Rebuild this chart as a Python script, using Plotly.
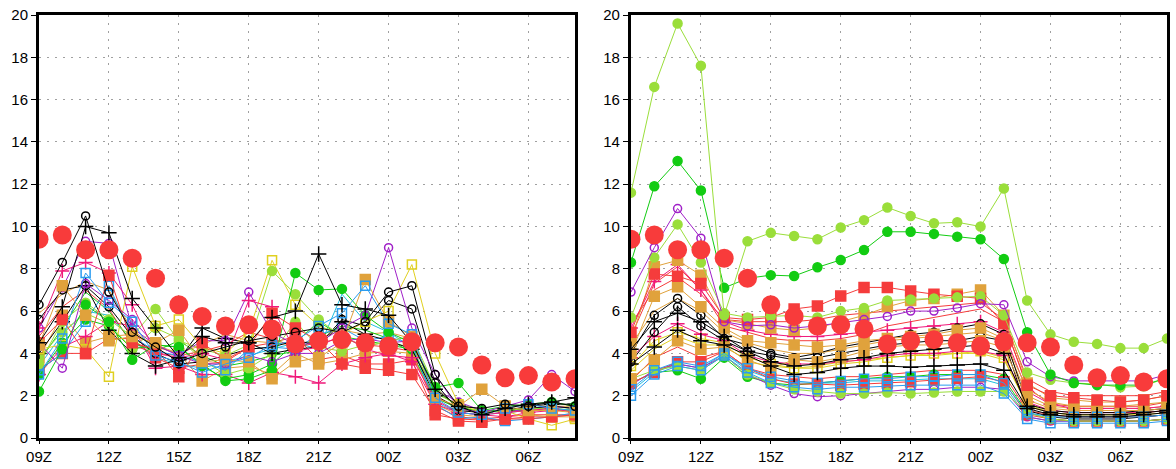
import plotly.graph_objects as go
from plotly.subplots import make_subplots

hours = list(range(24))
tick_vals = [0, 3, 6, 9, 12, 15, 18, 21]
tick_text = ["09Z", "12Z", "15Z", "18Z", "21Z", "00Z", "03Z", "06Z"]
y_ticks = [0, 2, 4, 6, 8, 10, 12, 14, 16, 18, 20]

obs = [9.4, 9.6, 8.9, 8.9, 8.5, 7.55, 6.3, 5.75, 5.3, 5.35, 5.15, 4.45,
       4.6, 4.65, 4.5, 4.35, 4.55, 4.5, 4.3, 3.45, 2.85, 2.95, 2.65, 2.8]

# ---- left panel members ----
l_boc1 = [6.3, 8.3, 10.5, 6.9, 5.0, 4.3, 3.6, 4.0, 4.3, 4.6, 4.8, 5.0, 5.2, 5.0, 5.5, 6.9, 7.2, 3.0, 1.5, 1.4, 1.6, 1.5, 1.7, 1.5]
l_boc2 = [5.6, 7.0, 7.2, 6.2, 4.8, 4.0, 3.5, 3.6, 3.9, 4.2, 4.3, 4.6, 4.4, 5.6, 5.3, 6.5, 6.1, 2.6, 1.3, 1.2, 1.3, 1.4, 1.5, 1.4]
l_bp1 = [4.5, 6.2, 10.0, 9.7, 6.6, 5.2, 3.8, 4.8, 4.5, 4.5, 5.7, 6.0, 8.7, 6.3, 6.1, 5.8, 4.5, 2.3, 1.5, 1.1, 1.4, 1.6, 1.7, 1.9]
l_bp2 = [4.0, 5.5, 7.2, 5.1, 4.0, 3.4, 3.7, 5.2, 4.7, 4.5, 4.0, 4.2, 4.3, 5.5, 4.9, 4.6, 4.2, 2.0, 1.4, 1.2, 1.3, 1.5, 1.6, 1.6]
l_g1 = [2.2, 4.2, 6.3, 5.5, 3.7, 4.4, 4.3, 3.5, 2.7, 2.8, 3.2, 7.8, 7.0, 7.05, 5.8, 5.0, 4.5, 2.4, 2.6, 1.3, 1.5, 1.6, 1.7, 1.5]
l_g2 = [3.0, 4.5, 5.6, 5.3, 4.2, 4.4, 4.3, 3.4, 2.8, 3.0, 3.5, 4.5, 5.5, 4.8, 4.6, 4.4, 4.2, 2.2, 1.5, 1.2, 1.3, 1.4, 1.4, 1.3]
l_yg1 = [3.5, 5.5, 6.4, 5.6, 4.8, 6.1, 4.6, 4.2, 3.9, 4.4, 7.9, 6.8, 5.6, 4.8, 4.3, 4.6, 4.8, 2.4, 1.4, 1.2, 1.3, 1.4, 1.4, 1.3]
l_yg2 = [3.8, 5.0, 5.9, 5.4, 4.2, 5.2, 4.7, 3.7, 3.0, 3.3, 4.0, 5.5, 4.3, 4.1, 4.4, 4.5, 4.3, 2.1, 1.6, 1.3, 1.2, 1.3, 1.4, 1.2]
l_pu1 = [4.5, 3.3, 7.3, 6.5, 5.6, 4.4, 3.9, 4.6, 4.6, 6.9, 5.0, 4.4, 4.5, 5.2, 5.8, 9.0, 5.2, 3.0, 1.4, 1.2, 1.5, 1.8, 3.0, 2.2]
l_pu2 = [5.2, 7.1, 9.3, 9.2, 5.2, 4.4, 3.9, 3.5, 3.5, 3.9, 3.6, 4.0, 4.0, 4.6, 4.7, 4.5, 4.6, 2.3, 1.7, 1.3, 1.2, 1.4, 1.5, 1.4]
l_mp1 = [5.2, 7.9, 8.3, 7.8, 6.3, 4.0, 3.8, 4.0, 3.7, 6.5, 6.2, 4.1, 4.3, 4.9, 4.2, 3.9, 3.8, 1.8, 1.2, 1.1, 1.2, 1.3, 1.4, 1.2]
l_mp2 = [3.0, 4.3, 4.8, 5.5, 5.3, 3.3, 3.4, 3.0, 3.0, 2.6, 3.1, 2.9, 2.6, 3.5, 3.8, 4.0, 3.6, 1.6, 1.2, 1.1, 1.0, 1.2, 1.3, 1.3]
l_rs1 = [4.5, 5.6, 4.0, 7.7, 4.5, 4.2, 2.9, 4.5, 3.7, 4.3, 5.9, 5.2, 4.6, 3.5, 3.3, 3.2, 3.0, 1.3, 0.8, 0.75, 0.9, 0.9, 1.0, 1.1]
l_rs2 = [3.2, 4.0, 4.0, 4.7, 4.7, 3.8, 3.3, 3.5, 3.6, 4.3, 4.5, 4.8, 3.7, 3.9, 3.5, 3.5, 3.7, 1.1, 0.9, 0.85, 0.9, 1.0, 1.0, 1.1]
l_os1 = [4.4, 7.2, 5.8, 4.6, 4.8, 4.5, 5.1, 3.6, 3.7, 3.6, 2.8, 3.6, 3.8, 4.5, 7.5, 5.5, 4.8, 1.9, 1.5, 2.3, 1.5, 1.3, 1.3, 1.2]
l_os2 = [3.8, 5.8, 4.5, 4.8, 4.9, 4.4, 4.0, 2.7, 3.3, 3.4, 3.0, 4.0, 3.5, 3.7, 4.0, 4.1, 4.0, 1.6, 1.1, 1.0, 1.5, 1.1, 1.0, 1.0]
l_bs1 = [3.0, 4.7, 7.8, 6.4, 5.5, 3.9, 3.6, 3.1, 3.5, 3.8, 4.4, 4.6, 5.3, 5.9, 7.2, 5.4, 4.9, 1.9, 1.2, 1.1, 1.4, 1.6, 1.4, 1.3]
l_bs2 = [3.2, 4.0, 5.5, 7.2, 4.8, 4.1, 3.9, 3.6, 3.2, 4.2, 4.3, 4.2, 4.9, 5.2, 4.6, 4.8, 4.4, 1.6, 0.9, 1.0, 0.8, 0.9, 1.0, 1.2]
l_ys1 = [4.2, 4.4, 4.2, 2.9, 8.1, 5.3, 5.6, 4.3, 4.0, 5.0, 8.4, 6.3, 5.3, 4.9, 5.5, 6.0, 8.2, 4.0, 1.6, 1.2, 1.3, 0.9, 0.6, 0.9]
l_cyan = [3.4, 4.9, 6.0, 5.8, 4.6, 3.8, 3.5, 3.3, 3.6, 3.9, 4.2, 4.5, 4.2, 6.8, 5.5, 5.0, 4.3, 1.7, 1.2, 1.1, 1.2, 1.3, 1.3, 1.3]
l_orange = [5.9, 6.8, 7.4, 7.0, 5.1, 4.3, 4.0, 4.4, 4.9, 4.6, 4.5, 4.4, 4.7, 5.1, 4.9, 5.0, 4.7, 2.0, 1.4, 1.2, 1.3, 1.4, 1.5, 1.5]
l_red = [4.8, 6.2, 7.0, 6.1, 4.4, 4.0, 3.9, 4.1, 4.4, 5.0, 4.7, 4.3, 4.5, 4.7, 4.4, 4.3, 4.1, 1.5, 1.0, 0.9, 1.0, 1.1, 1.1, 1.1]
l_green = [3.6, 5.2, 6.9, 6.0, 4.5, 4.1, 4.6, 3.9, 3.4, 3.6, 3.9, 4.1, 4.8, 5.3, 5.1, 4.7, 4.0, 1.9, 1.4, 1.3, 1.3, 1.3, 1.3, 1.4]

# ---- right panel members ----
r_yg1 = [11.6, 16.6, 19.6, 17.6, 5.8, 9.3, 9.7, 9.55, 9.4, 9.95, 10.3, 10.9, 10.5, 10.15, 10.2, 10.0, 11.8, 6.5, 4.9, 4.55, 4.45, 4.25, 4.25, 4.7]
r_g1 = [8.3, 11.9, 13.1, 11.7, 7.1, 7.55, 7.7, 7.66, 8.07, 8.42, 8.89, 9.75, 9.75, 9.65, 9.52, 9.4, 8.46, 5.0, 3.0, 2.6, 2.5, 2.5, 2.5, 2.85]
r_pu1 = [6.9, 9.0, 10.85, 9.45, 5.5, 5.3, 5.35, 5.2, 5.3, 5.45, 5.6, 5.75, 6.0, 6.0, 6.15, 6.35, 6.3, 3.6, 2.9, 2.7, 2.7, 2.7, 2.7, 3.0]
r_yg2 = [5.7, 8.54, 10.1, 8.3, 5.9, 5.7, 5.75, 5.8, 5.7, 6.0, 6.15, 6.5, 6.55, 6.6, 6.65, 6.7, 5.8, 3.1, 2.75, 2.6, 2.55, 2.4, 2.45, 2.85]
r_yg3 = [2.8, 3.2, 3.4, 3.2, 3.9, 3.0, 2.6, 2.3, 2.2, 2.1, 2.1, 2.15, 2.1, 2.15, 2.2, 2.2, 2.2, 1.2, 0.9, 0.8, 0.8, 0.8, 0.8, 0.9]
r_rs1 = [5.0, 7.75, 7.65, 7.3, 5.7, 5.6, 5.7, 6.1, 6.24, 6.71, 7.12, 7.12, 6.95, 6.8, 6.7, 6.6, 5.4, 2.5, 2.0, 1.9, 1.8, 1.7, 1.8, 2.0]
r_rs2 = [4.8, 7.3, 8.1, 7.0, 5.3, 5.0, 4.7, 4.6, 4.6, 4.7, 4.9, 5.3, 5.5, 5.7, 5.9, 6.1, 5.5, 2.4, 1.6, 1.5, 1.5, 1.5, 1.5, 1.7]
r_rs3 = [2.6, 3.1, 3.6, 3.6, 4.1, 3.3, 2.8, 2.55, 2.55, 2.5, 2.55, 2.6, 2.66, 2.74, 2.82, 2.9, 2.66, 1.1, 0.9, 0.8, 0.8, 0.8, 0.8, 0.9]
r_rs4 = [2.7, 3.8, 4.3, 3.8, 4.1, 3.3, 3.0, 2.9, 2.8, 2.9, 2.9, 3.0, 3.1, 3.2, 3.2, 3.2, 3.0, 1.3, 1.1, 1.0, 1.0, 1.0, 1.0, 1.1]
r_os1 = [4.6, 8.1, 8.4, 7.7, 5.6, 5.4, 5.2, 5.1, 5.2, 5.5, 5.8, 6.2, 6.5, 6.6, 6.8, 7.0, 5.8, 2.6, 1.9, 1.8, 1.7, 1.7, 1.8, 2.0]
r_os2 = [4.0, 6.7, 7.15, 6.2, 5.2, 4.6, 4.5, 4.4, 4.3, 4.4, 4.6, 4.7, 4.8, 4.9, 5.1, 5.2, 4.7, 2.3, 1.7, 1.5, 1.5, 1.5, 1.6, 1.7]
r_os3 = [2.8, 3.7, 4.6, 4.2, 4.3, 3.7, 3.3, 3.7, 3.6, 3.8, 4.1, 4.3, 4.4, 4.4, 4.5, 4.6, 4.3, 1.8, 1.4, 1.3, 1.3, 1.3, 1.3, 1.4]
r_mp1 = [5.2, 7.4, 8.2, 7.0, 5.5, 5.1, 4.9, 4.8, 4.8, 4.9, 5.0, 5.1, 5.2, 5.3, 5.4, 5.5, 5.0, 2.2, 1.6, 1.4, 1.4, 1.4, 1.4, 1.5]
r_mp2 = [3.8, 4.8, 5.4, 4.9, 4.6, 3.9, 3.6, 3.5, 3.5, 3.6, 3.7, 3.9, 4.0, 4.0, 4.1, 4.1, 3.9, 1.7, 1.3, 1.2, 1.2, 1.2, 1.2, 1.3]
r_boc1 = [4.0, 5.8, 6.6, 5.8, 4.7, 4.4, 4.0, 3.8, 4.0, 4.3, 4.5, 4.7, 4.9, 5.0, 5.2, 5.4, 4.9, 1.6, 1.3, 1.2, 1.2, 1.2, 1.3, 1.4]
r_boc2 = [3.6, 5.0, 6.2, 5.3, 4.6, 4.1, 3.9, 3.7, 3.8, 4.0, 4.2, 4.4, 4.5, 4.6, 4.6, 4.8, 4.6, 1.3, 1.0, 0.9, 0.9, 0.9, 1.0, 1.1]
r_bp1 = [3.5, 4.3, 5.1, 4.6, 4.4, 3.9, 3.4, 3.0, 3.1, 3.3, 3.4, 3.4, 3.35, 3.4, 3.45, 3.5, 3.2, 1.4, 1.1, 1.0, 1.0, 1.0, 1.1, 1.2]
r_bp2 = [4.2, 5.5, 5.9, 5.5, 4.8, 4.1, 3.6, 3.4, 3.5, 3.7, 3.8, 4.0, 4.1, 4.2, 4.3, 4.4, 4.0, 1.5, 1.2, 1.1, 1.1, 1.1, 1.2, 1.3]
r_bs1 = [2.0, 3.0, 3.4, 3.2, 3.9, 3.1, 2.6, 2.4, 2.3, 2.4, 2.4, 2.45, 2.5, 2.5, 2.5, 2.5, 2.1, 0.9, 0.7, 0.7, 0.7, 0.7, 0.7, 0.8]
r_bs2 = [2.3, 3.2, 3.6, 3.4, 4.0, 3.3, 2.9, 2.7, 2.6, 2.7, 2.8, 2.8, 2.9, 2.9, 3.0, 3.0, 2.6, 1.2, 1.0, 1.0, 1.0, 1.0, 1.0, 1.1]
r_pu2 = [2.5, 3.2, 3.5, 3.3, 3.9, 3.0, 2.5, 2.1, 1.95, 2.0, 2.1, 2.2, 2.3, 2.3, 2.4, 2.4, 2.3, 1.0, 0.8, 0.8, 0.8, 0.8, 0.8, 0.9]
r_ys1 = [3.4, 4.6, 5.0, 4.7, 4.5, 3.8, 3.5, 3.3, 3.3, 3.5, 3.6, 3.8, 3.9, 4.0, 4.0, 4.1, 3.8, 1.5, 1.2, 1.1, 1.1, 1.1, 1.1, 1.2]
r_g2 = [2.6, 3.1, 3.2, 2.8, 3.8, 2.9, 2.6, 2.5, 2.6, 2.7, 2.8, 2.9, 2.9, 3.0, 3.0, 3.0, 2.8, 1.2, 0.9, 0.8, 0.8, 0.8, 0.8, 0.9]
r_cyan = [2.2, 3.1, 3.5, 3.3, 4.0, 3.2, 2.8, 2.6, 2.6, 2.6, 2.7, 2.7, 2.75, 2.8, 2.8, 2.8, 2.5, 1.0, 0.8, 0.8, 0.8, 0.8, 0.8, 0.9]
r_orange = [4.4, 6.0, 6.6, 6.0, 5.0, 4.5, 4.2, 4.0, 4.0, 4.2, 4.4, 4.6, 4.7, 4.8, 4.9, 5.0, 4.6, 2.0, 1.5, 1.4, 1.4, 1.4, 1.4, 1.5]
r_red = [5.4, 7.0, 7.6, 6.8, 5.6, 5.5, 5.5, 5.5, 5.6, 5.8, 5.9, 6.0, 6.1, 6.2, 6.3, 6.4, 5.6, 2.8, 2.2, 2.0, 2.0, 2.0, 2.0, 2.2]
r_yellow = [3.2, 4.2, 4.8, 4.4, 4.4, 3.6, 3.4, 3.3, 3.4, 3.6, 3.7, 3.8, 3.9, 3.9, 4.0, 4.0, 3.7, 1.6, 1.2, 1.1, 1.1, 1.1, 1.2, 1.3]

BLACK = "#000000"
GREEN = "#12cc12"
YGREEN = "#9ade3a"
PURPLE = "#a020c8"
MAGENTA = "#f0187a"
RED = "#f53c3c"
ORANGE = "#e0a23c"
BLUE = "#2a9cf0"
YELLOW = "#e0d020"
CYAN = "#20c0e0"
OBS = "#f83b3b"

STYLES = {
    "boc": (BLACK, "circle-open", 8),
    "bp": (BLACK, "cross-thin-open", 11),
    "g": (GREEN, "circle", 9),
    "yg": (YGREEN, "circle", 9),
    "pu": (PURPLE, "circle-open", 8),
    "mp": (MAGENTA, "cross-thin-open", 10),
    "rs": (RED, "square", 10),
    "os": (ORANGE, "square", 10),
    "bs": (BLUE, "square-open", 9),
    "ys": (YELLOW, "square-open", 9),
}

left_members = [
    ("line", CYAN, l_cyan), ("line", ORANGE, l_orange), ("line", RED, l_red), ("line", GREEN, l_green),
    ("rs", None, l_rs2), ("os", None, l_os2), ("mp", None, l_mp2), ("g", None, l_g2), ("yg", None, l_yg2),
    ("bs", None, l_bs2), ("pu", None, l_pu2), ("boc", None, l_boc2), ("bp", None, l_bp2),
    ("ys", None, l_ys1), ("yg", None, l_yg1), ("g", None, l_g1), ("pu", None, l_pu1), ("mp", None, l_mp1),
    ("rs", None, l_rs1), ("os", None, l_os1), ("bs", None, l_bs1), ("boc", None, l_boc1), ("bp", None, l_bp1),
]
right_members = [
    ("line", CYAN, r_cyan), ("line", ORANGE, r_orange), ("line", RED, r_red), ("line", YELLOW, r_yellow),
    ("line", RED, r_rs4), ("line", RED, r_rs2),
    ("ys", None, r_ys1), ("mp", None, r_mp2), ("mp", None, r_mp1), ("boc", None, r_boc2), ("boc", None, r_boc1),
    ("g", None, r_g2), ("pu", None, r_pu2),
    ("rs", None, r_rs3), ("yg", None, r_yg3), ("os", None, r_os3), ("os", None, r_os2), ("os", None, r_os1),
    ("bs", None, r_bs2), ("bs", None, r_bs1), ("bp", None, r_bp2), ("bp", None, r_bp1),
    ("rs", None, r_rs1),
    ("yg", None, r_yg2), ("pu", None, r_pu1), ("g", None, r_g1), ("yg", None, r_yg1),
]

fig = make_subplots(rows=1, cols=2, horizontal_spacing=0.0496)


def add_member(kind, color, vals, col):
    if kind == "line":
        fig.add_trace(go.Scatter(x=hours, y=vals, mode="lines",
                                 line=dict(color=color, width=1), showlegend=False,
                                 hoverinfo="skip"), row=1, col=col)
        return
    c, sym, size = STYLES[kind]
    marker = dict(symbol=sym, size=size, color=c, line=dict(color=c, width=1.5))
    fig.add_trace(go.Scatter(x=hours, y=vals, mode="lines+markers",
                             line=dict(color=c, width=1), marker=marker,
                             showlegend=False, hoverinfo="skip"), row=1, col=col)


for kind, color, vals in left_members:
    add_member(kind, color, vals, 1)
for kind, color, vals in right_members:
    add_member(kind, color, vals, 2)

for col in (1, 2):
    fig.add_trace(go.Scatter(x=hours, y=obs, mode="markers",
                             marker=dict(symbol="circle", size=19, color=OBS),
                             showlegend=False, hoverinfo="skip"), row=1, col=col)

axis_font = dict(family="Liberation Sans, Arial, sans-serif", size=15, color="black")
for col in (1, 2):
    fig.update_xaxes(range=[0, 23], tickvals=tick_vals, ticktext=tick_text,
                     showgrid=True, gridcolor="#a0a0a0", gridwidth=1, griddash="2px,6px",
                     showline=True, linecolor="black", linewidth=3, mirror=True,
                     ticks="outside", ticklen=3, tickcolor="black", tickfont=axis_font,
                     automargin=False,
                     zeroline=False, row=1, col=col)
    fig.update_yaxes(range=[0, 20], tickvals=y_ticks,
                     showgrid=True, gridcolor="#a0a0a0", gridwidth=1, griddash="2px,6px",
                     showline=True, linecolor="black", linewidth=3, mirror=True,
                     ticks="outside", ticklen=5, tickcolor="black", tickfont=axis_font,
                     automargin=False,
                     zeroline=False, row=1, col=col)

fig.update_layout(
    width=1176, height=469,
    margin=dict(l=39, r=9, t=15, b=31),
    paper_bgcolor="white", plot_bgcolor="white",
    showlegend=False,
)
fig.update_xaxes(domain=[0, 0.4752], row=1, col=1)
fig.update_xaxes(domain=[0.5248, 1.0], row=1, col=2)

fig.write_html("out.html", config={"displayModeBar": False},
               post_script="document.body.style.margin='0px';document.body.style.overflow='hidden';")
